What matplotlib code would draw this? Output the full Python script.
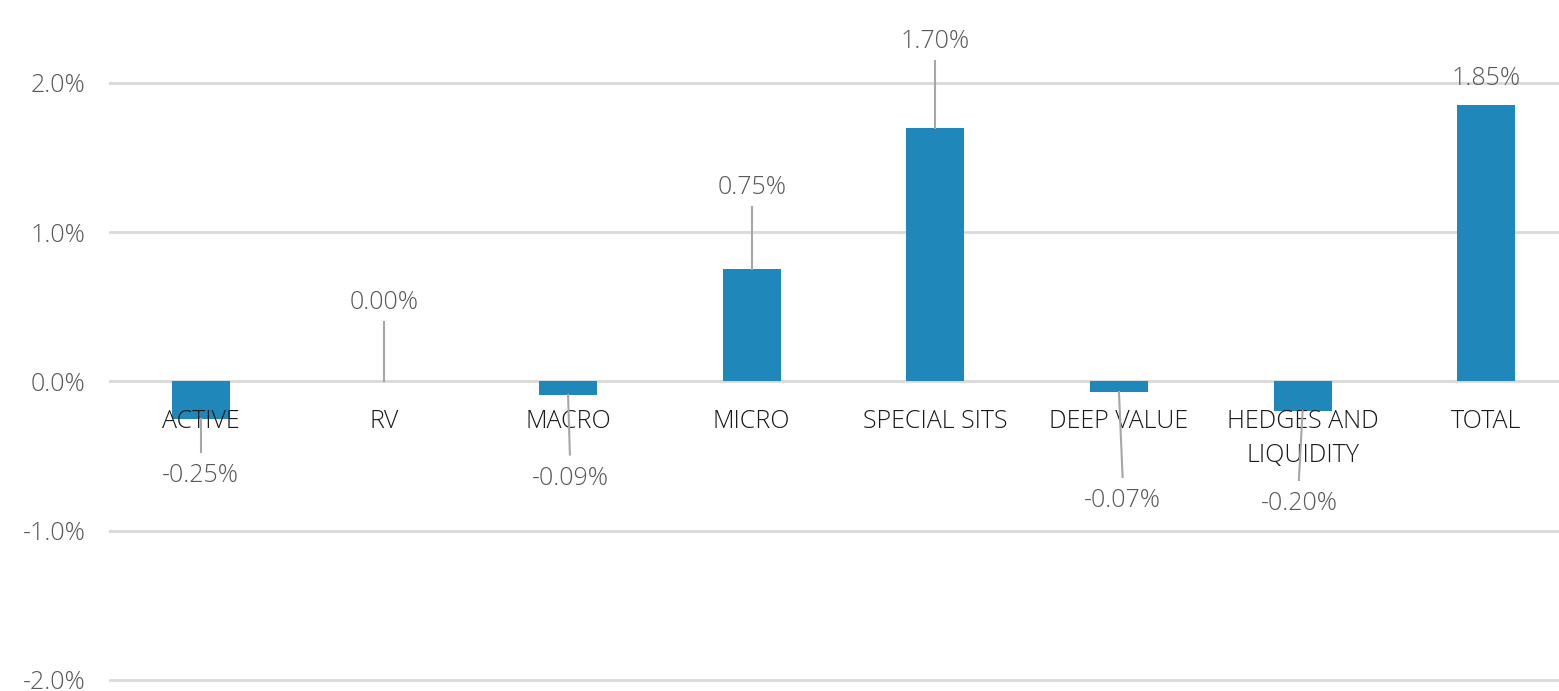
import numpy as np
import matplotlib.pyplot as plt

categories = ['ACTIVE', 'RV', 'MACRO', 'MICRO', 'SPECIAL SITS', 'DEEP VALUE',
              'HEDGES AND\nLIQUIDITY', 'TOTAL']
values = [-0.25, 0.00, -0.09, 0.75, 1.70, -0.07, -0.20, 1.85]

# where the data labels sit (offset from the bar end, in % units) and x nudges
label_dy = [-0.38, 0.53, -0.56, 0.55, 0.58, -0.73, -0.62, 0.18]
label_dx = [0.0, 0.0, 0.01, 0.0, 0.0, 0.02, -0.02, 0.0]
leader = [True, True, True, True, True, True, True, False]

plt.rcParams['font.family'] = ['Open Sans', 'DejaVu Sans']

fig = plt.figure(figsize=(15.59, 6.91), dpi=100)
# axes extends past the right edge like the original
ax = fig.add_axes([109 / 1559, 0, 1469 / 1559, 1])

x = np.arange(len(categories))
ax.bar(x, values, width=0.316, color='#1f87b9', zorder=2)

ax.set_xlim(-0.5, len(categories) - 0.5)
ax.set_ylim(-2.074, 2.555)
ax.set_yticks([-2, -1, 0, 1, 2])
ax.set_yticklabels([f'{v:.1f}%' for v in [-2, -1, 0, 1, 2]])
ax.yaxis.grid(True, color='#d9d9d9', linewidth=2)
ax.set_axisbelow(True)
ax.set_xticks([])
ax.tick_params(axis='y', length=0, pad=17, labelsize=18, labelcolor='#595959')
for t in ax.get_yticklabels():
    t.set_fontweight('light')
for s in ax.spines.values():
    s.set_visible(False)

for i, c in enumerate(categories):
    ax.text(i, -0.187, c, ha='center', va='top', fontsize=18, fontweight='light',
            color='#1a1a1a', zorder=3, linespacing=1.45)

for i, v in enumerate(values):
    ly = v + label_dy[i]
    lx = i + label_dx[i]
    ax.text(lx, ly, f'{v:.2f}%', ha='center', va='center', fontsize=18,
            fontweight='light', color='#595959', zorder=4)
    if leader[i]:
        if label_dy[i] > 0:
            ax.plot([lx, i], [ly - 0.135, v], color='#a6a6a6',
                    linewidth=1.5, zorder=4)
        else:
            ax.plot([lx, i], [ly + 0.16, v], color='#a6a6a6',
                    linewidth=1.5, zorder=4)

fig.savefig('out.png', dpi=100)
